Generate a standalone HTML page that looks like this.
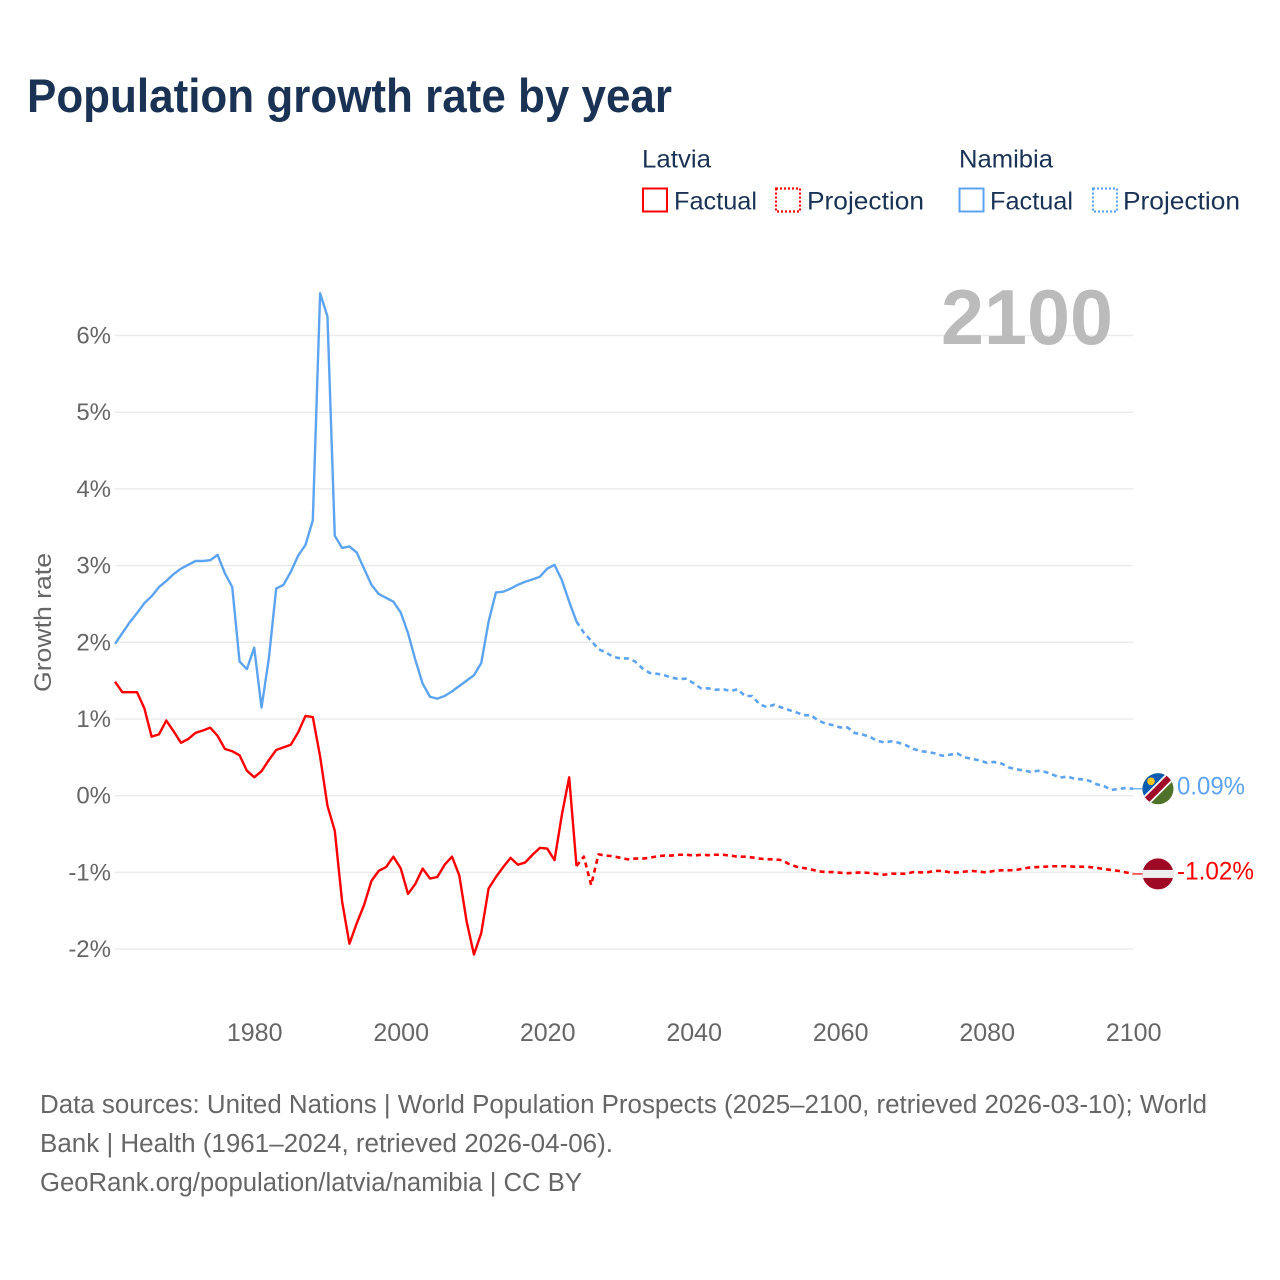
<!DOCTYPE html>
<html lang="en">
<head>
<meta charset="utf-8">
<title>Population growth rate by year</title>
<style>
html,body{margin:0;padding:0;background:#fff;}
svg{display:block;font-family:"Liberation Sans",sans-serif;}
</style>
</head>
<body>
<svg id="chart" width="1280" height="1280" viewBox="0 0 1280 1280" xmlns="http://www.w3.org/2000/svg">
  <text x="27" y="112" font-size="47" font-weight="700" fill="#1a3354" textLength="645" lengthAdjust="spacingAndGlyphs">Population growth rate by year</text>

  <g font-size="25" fill="#1a3354">
    <text x="642" y="167.5" textLength="69" lengthAdjust="spacingAndGlyphs">Latvia</text>
    <rect x="643" y="188.5" width="24" height="23" fill="none" stroke="#ff0000" stroke-width="2"/>
    <text x="674" y="209.5" textLength="83" lengthAdjust="spacingAndGlyphs">Factual</text>
    <rect x="776" y="188.5" width="24" height="23" fill="none" stroke="#ff0000" stroke-width="2.2" stroke-dasharray="2 2"/>
    <text x="807" y="209.5" textLength="117" lengthAdjust="spacingAndGlyphs">Projection</text>
    <text x="959" y="167.5" textLength="94" lengthAdjust="spacingAndGlyphs">Namibia</text>
    <rect x="959.5" y="188.5" width="24" height="23" fill="none" stroke="#5ca4ef" stroke-width="2"/>
    <text x="990" y="209.5" textLength="83" lengthAdjust="spacingAndGlyphs">Factual</text>
    <rect x="1093" y="188.5" width="24" height="23" fill="none" stroke="#5ca4ef" stroke-width="2.2" stroke-dasharray="2 2"/>
    <text x="1123" y="209.5" textLength="117" lengthAdjust="spacingAndGlyphs">Projection</text>
  </g>

  <g id="grid"></g>
  <g id="yticks"></g>
  <g id="xticks"></g>

  <text transform="translate(51,692) rotate(-90)" font-size="24.5" fill="#666666" textLength="139" lengthAdjust="spacingAndGlyphs">Growth rate</text>

  <text id="yearLabel" x="941" y="344" font-size="78" font-weight="700" fill="#bbbbbb" textLength="172" lengthAdjust="spacingAndGlyphs">2100</text>

  <g id="series"></g>

  <defs>
    <clipPath id="clipNamibia"><circle cx="0" cy="0" r="15.5"/></clipPath>
    <clipPath id="clipLatvia"><circle cx="0" cy="0" r="15.5"/></clipPath>
  </defs>

  <g id="flagNamibia">
    <g clip-path="url(#clipNamibia)">
      <rect x="-16" y="-16" width="32" height="32" fill="#4f7229"/>
      <polygon points="-16,-16 16,-16 -16,16" fill="#0a5cb0"/>
      <polygon points="-16,9 9,-16 16,-16 16,-9 -9,16 -16,16" fill="#ffffff"/>
      <polygon points="-16,11.5 11.5,-16 16,-16 16,-11.5 -11.5,16 -16,16" fill="#a00d2a"/>
      <circle cx="-7" cy="-7.5" r="3.8" fill="#f6c61f"/>
    </g>
  </g>
  <g id="flagLatvia">
    <g clip-path="url(#clipLatvia)">
      <rect x="-16" y="-16" width="32" height="32" fill="#9e0a25"/>
      <rect x="-16" y="-4" width="32" height="8" fill="#eeeeee"/>
    </g>
  </g>

  <text id="endNamibia" x="1177" y="794.5" font-size="25" fill="#5ca4ef" textLength="68" lengthAdjust="spacingAndGlyphs">0.09%</text>
  <text id="endLatvia" x="1177" y="879.5" font-size="25" fill="#ff0000" textLength="77" lengthAdjust="spacingAndGlyphs">-1.02%</text>

  <g font-size="25.5" fill="#666666">
    <text x="40" y="1113" textLength="1167" lengthAdjust="spacingAndGlyphs">Data sources: United Nations | World Population Prospects (2025–2100, retrieved 2026-03-10); World</text>
    <text x="40" y="1152" textLength="573" lengthAdjust="spacingAndGlyphs">Bank | Health (1961–2024, retrieved 2026-04-06).</text>
    <text x="40" y="1191" textLength="542" lengthAdjust="spacingAndGlyphs">GeoRank.org/population/latvia/namibia | CC BY</text>
  </g>
</svg>

<script>
const xTickYears = [1980, 2000, 2020, 2040, 2060, 2080, 2100];
const yTickValues = [-2, -1, 0, 1, 2, 3, 4, 5, 6];
const yTickLabels = ["-2%", "-1%", "0%", "1%", "2%", "3%", "4%", "5%", "6%"];

const factualStartYear = 1961;
const projectionStartYear = 2024;

const namibiaFactual = [
  1.98,2.12,2.26,2.38,2.51,2.60,2.72,2.80,2.89,2.96,
  3.01,3.06,3.06,3.07,3.14,2.90,2.72,1.75,1.65,1.93,
  1.15,1.79,2.70,2.75,2.92,3.13,3.27,3.59,6.55,6.25,
  3.39,3.23,3.25,3.17,2.96,2.75,2.63,2.58,2.53,2.39,
  2.12,1.77,1.46,1.29,1.265,1.30,1.36,1.43,1.50,1.57,
  1.73,2.27,2.65,2.66,2.70,2.75,2.79,2.82,2.855,2.96,
  3.01,2.81,2.53,2.27
];
const namibiaProjection = [
  2.27,2.125,2.02,1.91,1.87,1.81,1.79,1.79,1.75,1.66,
  1.60,1.59,1.57,1.54,1.52,1.525,1.465,1.40,1.40,1.38,
  1.39,1.365,1.387,1.30,1.30,1.19,1.156,1.186,1.15,1.117,
  1.087,1.05,1.05,0.98,0.94,0.92,0.89,0.89,0.817,0.80,
  0.77,0.717,0.695,0.71,0.69,0.657,0.61,0.58,0.57,0.55,
  0.52,0.535,0.55,0.50,0.48,0.46,0.43,0.44,0.42,0.37,
  0.345,0.33,0.31,0.325,0.31,0.275,0.235,0.25,0.22,0.214,
  0.195,0.15,0.126,0.074,0.09,0.10,0.09
];
const latviaFactual = [
  1.487,1.35,1.35,1.35,1.14,0.77,0.80,0.98,0.84,0.69,
  0.74,0.82,0.85,0.887,0.78,0.61,0.58,0.527,0.326,0.24,
  0.32,0.465,0.596,0.63,0.665,0.826,1.04,1.026,0.51,-0.13,
  -0.456,-1.38,-1.93,-1.664,-1.425,-1.112,-0.98,-0.93,-0.795,-0.947,
  -1.28,-1.15,-0.95,-1.08,-1.06,-0.90,-0.795,-1.04,-1.64,-2.07,
  -1.79,-1.21,-1.06,-0.93,-0.81,-0.90,-0.87,-0.77,-0.68,-0.69,
  -0.84,-0.25,0.24,-0.917
];
const latviaProjection = [
  -0.917,-0.795,-1.165,-0.765,-0.78,-0.79,-0.81,-0.83,-0.82,-0.82,
  -0.81,-0.79,-0.78,-0.78,-0.77,-0.77,-0.78,-0.77,-0.775,-0.77,
  -0.77,-0.78,-0.795,-0.795,-0.805,-0.82,-0.83,-0.83,-0.84,-0.89,
  -0.925,-0.943,-0.96,-0.985,-0.995,-0.995,-1.004,-1.01,-1.004,-1.0,
  -1.008,-1.02,-1.03,-1.017,-1.017,-1.017,-0.995,-1.0,-0.997,-0.98,
  -0.98,-1.0,-1.0,-0.99,-0.98,-0.99,-1.0,-0.98,-0.973,-0.973,
  -0.968,-0.95,-0.934,-0.93,-0.925,-0.92,-0.92,-0.92,-0.925,-0.925,
  -0.93,-0.94,-0.956,-0.968,-0.98,-1.0,-1.02
];

const SVG_NS = "http://www.w3.org/2000/svg";
const xScale = function (year) { return 1133.2 - (2100 - year) * 7.325; };
const yScale = function (value) { return 795.7 - value * 76.7; };
const gridLeft = 115;
const gridRight = 1133;

const gridGroup = document.getElementById("grid");
const yTickGroup = document.getElementById("yticks");
const xTickGroup = document.getElementById("xticks");
const seriesGroup = document.getElementById("series");

yTickValues.forEach(function (value, i) {
  const line = document.createElementNS(SVG_NS, "line");
  
  
  line.setAttribute("x1", gridLeft);
  line.setAttribute("x2", gridRight);
  line.setAttribute("y1", yScale(value));
  line.setAttribute("y2", yScale(value));
  line.setAttribute("stroke", "#ebebeb");
  line.setAttribute("stroke-width", "1.5");
  gridGroup.appendChild(line);

  const label = document.createElementNS(SVG_NS, "text");
  
  
  label.setAttribute("x", 111);
  label.setAttribute("y", yScale(value) + 8);
  label.setAttribute("text-anchor", "end");
  label.setAttribute("font-size", "24");
  label.setAttribute("fill", "#666666");
  label.textContent = yTickLabels[i];
  yTickGroup.appendChild(label);
});

xTickYears.forEach(function (year) {
  const label = document.createElementNS(SVG_NS, "text");
  
  
  label.setAttribute("x", xScale(year) + 0.5);
  label.setAttribute("y", 1041);
  label.setAttribute("text-anchor", "middle");
  label.setAttribute("font-size", "25");
  label.setAttribute("fill", "#666666");
  label.textContent = String(year);
  xTickGroup.appendChild(label);
});

function linePath(values, startYear) {
  return values.map(function (value, i) {
    return (i === 0 ? "M" : "L") + xScale(startYear + i).toFixed(2) + " " + yScale(value).toFixed(2);
  }).join(" ");
}

function drawSeries(values, startYear, color, dashed, name) {
  const path = document.createElementNS(SVG_NS, "path");
  
  
  path.setAttribute("d", linePath(values, startYear));
  path.setAttribute("fill", "none");
  path.setAttribute("stroke", color);
  path.setAttribute("stroke-linejoin", "round");
  if (dashed) {
    path.setAttribute("stroke-width", "2.6");
    path.setAttribute("stroke-dasharray", "5 4");
  } else {
    path.setAttribute("stroke-width", "2.4");
  }
  seriesGroup.appendChild(path);
}

function drawConnector(lastValue, color, name) {
  const line = document.createElementNS(SVG_NS, "line");
  
  
  line.setAttribute("x1", xScale(2100));
  line.setAttribute("x2", 1143);
  line.setAttribute("y1", yScale(lastValue));
  line.setAttribute("y2", yScale(lastValue));
  line.setAttribute("stroke", color);
  line.setAttribute("stroke-width", "1.2");
  seriesGroup.appendChild(line);
}

drawSeries(namibiaFactual, factualStartYear, "#5ca4ef", false, "namibia-factual-line");
drawSeries(namibiaProjection, projectionStartYear, "#5ca4ef", true, "namibia-projection-line");
drawSeries(latviaFactual, factualStartYear, "#ff0000", false, "latvia-factual-line");
drawSeries(latviaProjection, projectionStartYear, "#ff0000", true, "latvia-projection-line");

const namibiaLast = namibiaProjection[namibiaProjection.length - 1];
const latviaLast = latviaProjection[latviaProjection.length - 1];
drawConnector(namibiaLast, "#5ca4ef", "namibia-flag-connector");
drawConnector(latviaLast, "#ff0000", "latvia-flag-connector");
document.getElementById("flagNamibia").setAttribute("transform", "translate(1158," + yScale(namibiaLast) + ")");
document.getElementById("flagLatvia").setAttribute("transform", "translate(1158," + yScale(latviaLast) + ")");
</script>
</body>
</html>
